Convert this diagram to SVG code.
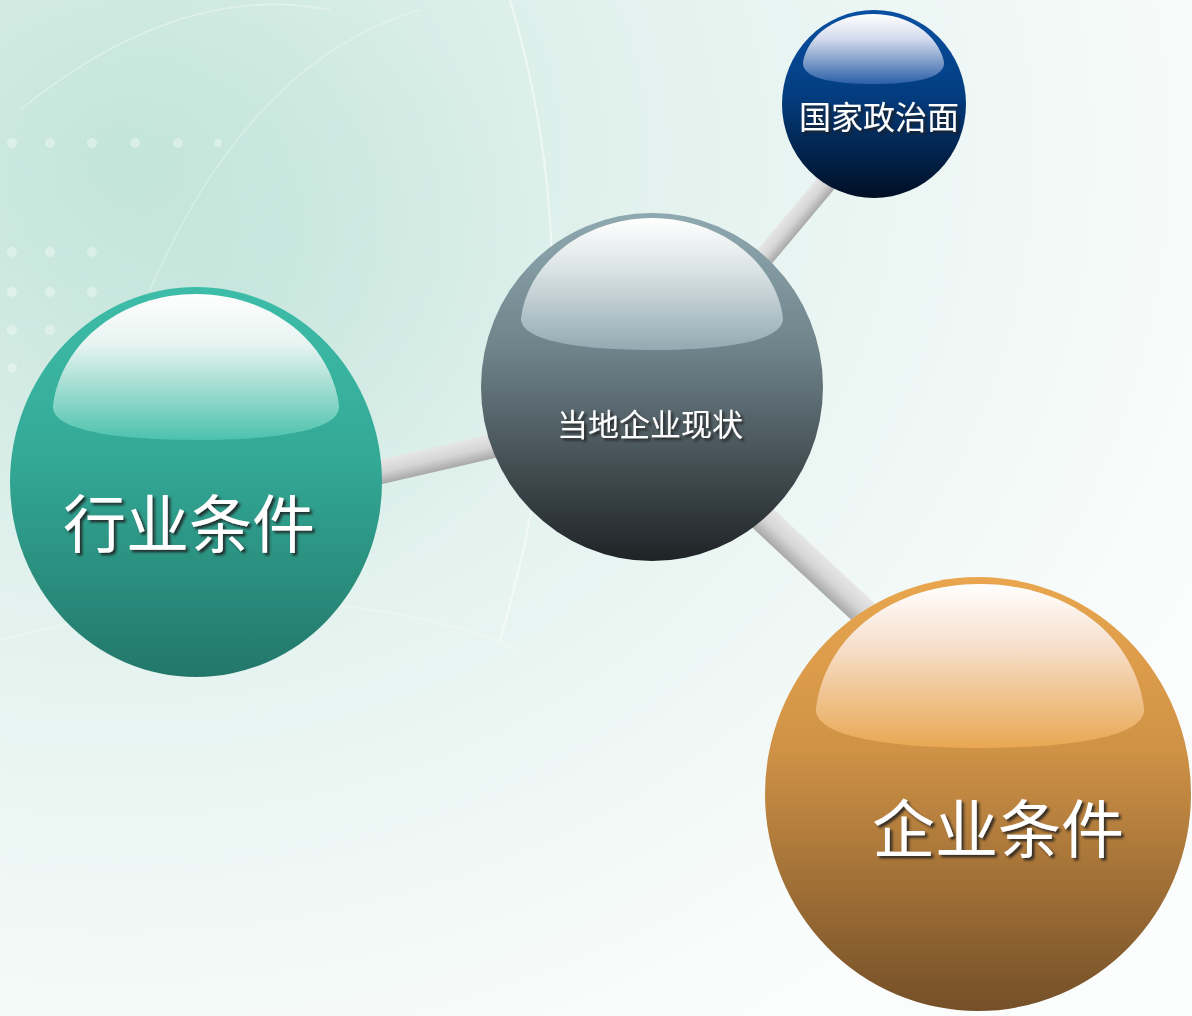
<svg xmlns="http://www.w3.org/2000/svg" width="1192" height="1016" viewBox="0 0 1192 1016">
<defs>
<radialGradient id="bg" cx="0.1" cy="0.15" r="1" gradientUnits="objectBoundingBox">
<stop offset="0" stop-color="#c6e6dc"/>
<stop offset="0.45" stop-color="#e3f2ee"/>
<stop offset="1" stop-color="#fbfdfd"/>
</radialGradient>
<radialGradient id="bgGlow" cx="0.5" cy="0.5" r="0.5">
<stop offset="0" stop-color="#b6dfd3" stop-opacity="0.35"/>
<stop offset="1" stop-color="#b6dfd3" stop-opacity="0"/>
</radialGradient>
<linearGradient id="rod" x1="0" y1="0" x2="0" y2="1">
<stop offset="0" stop-color="#e6e6e6"/>
<stop offset="0.5" stop-color="#d6d6d6"/>
<stop offset="1" stop-color="#a8a8a8"/>
</linearGradient>
<linearGradient id="gTeal" x1="0" y1="0" x2="0" y2="1">
<stop offset="0" stop-color="#3dbda9"/>
<stop offset="0.45" stop-color="#33a895"/>
<stop offset="1" stop-color="#22776a"/>
</linearGradient>
<linearGradient id="hTeal" x1="0" y1="0" x2="0" y2="1">
<stop offset="0" stop-color="#ffffff"/>
<stop offset="0.35" stop-color="#e6f3f0"/>
<stop offset="1" stop-color="#4cc2ad"/>
</linearGradient>
<linearGradient id="gGray" x1="0" y1="0" x2="0" y2="1">
<stop offset="0" stop-color="#8fa9b1"/>
<stop offset="0.4" stop-color="#6e8289"/>
<stop offset="1" stop-color="#1f2326"/>
</linearGradient>
<linearGradient id="hGray" x1="0" y1="0" x2="0" y2="1">
<stop offset="0" stop-color="#ffffff"/>
<stop offset="0.35" stop-color="#dfe6e8"/>
<stop offset="1" stop-color="#92aab2"/>
</linearGradient>
<linearGradient id="gBlue" x1="0" y1="0" x2="0" y2="1">
<stop offset="0" stop-color="#0a50a2"/>
<stop offset="0.45" stop-color="#033d80"/>
<stop offset="1" stop-color="#000f24"/>
</linearGradient>
<linearGradient id="hBlue" x1="0" y1="0" x2="0" y2="1">
<stop offset="0" stop-color="#ffffff"/>
<stop offset="0.35" stop-color="#d5dced"/>
<stop offset="1" stop-color="#2b5fa8"/>
</linearGradient>
<linearGradient id="gOrange" x1="0" y1="0" x2="0" y2="1">
<stop offset="0" stop-color="#e9a64e"/>
<stop offset="0.4" stop-color="#cf9246"/>
<stop offset="1" stop-color="#744f28"/>
</linearGradient>
<linearGradient id="hOrange" x1="0" y1="0" x2="0" y2="1">
<stop offset="0" stop-color="#ffffff"/>
<stop offset="0.35" stop-color="#f7e2d0"/>
<stop offset="1" stop-color="#e9a752"/>
</linearGradient>
<filter id="shadow" x="-10%" y="-20%" width="130%" height="150%">
<feDropShadow dx="2.5" dy="2.5" stdDeviation="0.8" flood-color="#1a1a1a" flood-opacity="0.85"/>
</filter>
<style>
.lbl{font-family:"Noto Sans CJK SC","Noto Sans CJK TC",sans-serif;fill:#ffffff;text-anchor:middle;filter:url(#shadow)}
.dot{fill:#ffffff;opacity:0.35}
</style>
</defs>

<g id="background">
<rect width="1192" height="1016" fill="url(#bg)"/>
<ellipse cx="230" cy="300" rx="330" ry="330" fill="url(#bgGlow)"/>
<path d="M0 640 Q 300 560 520 650" fill="none" stroke="#ffffff" stroke-opacity="0.25" stroke-width="2"/>
<path d="M510 0 Q 600 300 500 640" fill="none" stroke="#ffffff" stroke-opacity="0.5" stroke-width="2"/>
<path d="M20 110 Q 180 -20 330 10" fill="none" stroke="#ffffff" stroke-opacity="0.35" stroke-width="1.5"/>
<path d="M150 290 Q 250 60 420 10" fill="none" stroke="#ffffff" stroke-opacity="0.3" stroke-width="1.5"/>
<g class="dots">
<circle class="dot" cx="12" cy="143" r="5"/><circle class="dot" cx="50" cy="143" r="5"/><circle class="dot" cx="92" cy="143" r="5"/><circle class="dot" cx="135" cy="143" r="5"/><circle class="dot" cx="178" cy="143" r="5"/><circle class="dot" cx="218" cy="143" r="4"/>
<circle class="dot" cx="12" cy="252" r="5"/><circle class="dot" cx="50" cy="252" r="5"/><circle class="dot" cx="92" cy="252" r="5"/>
<circle class="dot" cx="12" cy="292" r="5"/><circle class="dot" cx="50" cy="292" r="5"/><circle class="dot" cx="92" cy="292" r="5"/>
<circle class="dot" cx="12" cy="330" r="5"/><circle class="dot" cx="50" cy="330" r="5"/>
<circle class="dot" cx="12" cy="368" r="5"/>
</g>
</g>

<g id="connectors">
<g transform="translate(372 474) rotate(-13)"><rect x="0" y="-12" width="128" height="24" fill="url(#rod)"/></g>
<g transform="translate(745 280) rotate(-50)"><rect x="0" y="-10" width="135" height="20" fill="url(#rod)"/></g>
<g transform="translate(740 497) rotate(43)"><rect x="0" y="-14" width="175" height="28" fill="url(#rod)"/></g>
</g>

<g id="node-gray">
<ellipse cx="652" cy="387" rx="171" ry="174" fill="url(#gGray)"/>
<path d="M521 318 C528 262 585 218 652 218 C719 218 776 262 783 318 C784 342 720 350 652 350 C584 350 520 342 521 318 Z" fill="url(#hGray)"/>
<text class="lbl" x="650" y="436" font-size="31">当地企业现状</text>
</g>

<g id="node-blue">
<ellipse cx="874" cy="104" rx="92" ry="94" fill="url(#gBlue)"/>
<path d="M803 62 C808 34 838 14 873 14 C908 14 938 34 944 62 C946 79 910 84 873 84 C836 84 801 79 803 62 Z" fill="url(#hBlue)"/>
<text class="lbl" x="879" y="129" font-size="32">国家政治面</text>
</g>

<g id="node-teal">
<ellipse cx="196" cy="482" rx="186" ry="195" fill="url(#gTeal)"/>
<path d="M53 405 C62 340 124 294 196 294 C268 294 330 340 339 405 C342 432 270 440 196 440 C122 440 50 432 53 405 Z" fill="url(#hTeal)"/>
<text class="lbl" x="189" y="547" font-size="63">行业条件</text>
</g>

<g id="node-orange">
<ellipse cx="978" cy="794" rx="213" ry="217" fill="url(#gOrange)"/>
<path d="M816 708 C826 633 895 584 980 584 C1065 584 1134 633 1144 708 C1147 738 1065 748 980 748 C895 748 813 738 816 708 Z" fill="url(#hOrange)"/>
<text class="lbl" x="998" y="852" font-size="63">企业条件</text>
</g>
</svg>
